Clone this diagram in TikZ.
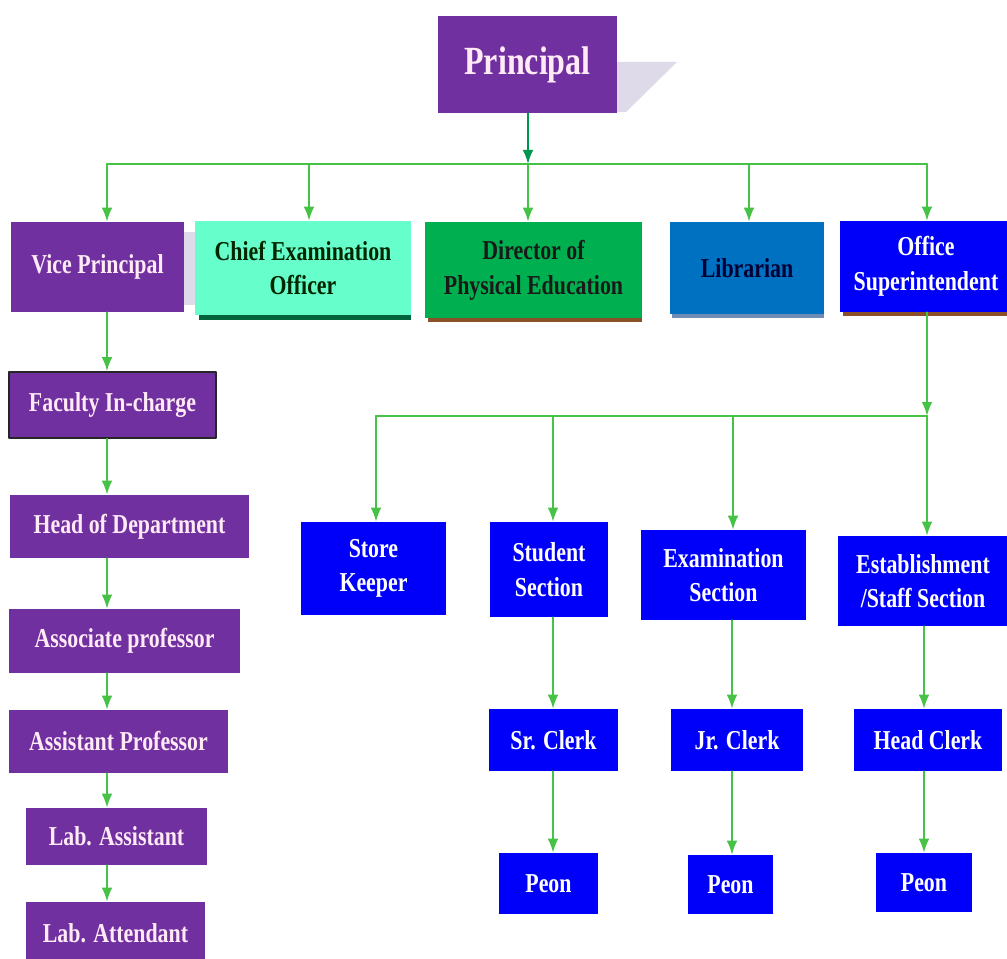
\documentclass[tikz,border=0pt]{standalone}
\usepackage{fontspec}
\newfontfamily\orgfont{Liberation Serif}[FakeStretch=0.8]
\usetikzlibrary{arrows.meta}
\definecolor{boxpurple}{RGB}{112,48,160}
\definecolor{boxmint}{RGB}{102,255,204}
\definecolor{boxgreen}{RGB}{0,176,80}
\definecolor{boxsky}{RGB}{0,112,192}
\definecolor{boxblue}{RGB}{0,0,250}
\definecolor{linkgreen}{RGB}{70,195,70}
\definecolor{darkgreen}{RGB}{0,150,80}
\definecolor{shadowgray}{RGB}{222,218,234}
\definecolor{pinkwhite}{RGB}{255,234,246}
\definecolor{edgebrown}{RGB}{140,80,40}
\definecolor{edgegreen}{RGB}{0,100,60}
\definecolor{edgesky}{RGB}{110,140,180}

\begin{document}
\begin{tikzpicture}[line cap=round,line join=round,x=0.75pt,y=-0.75pt,
  sz/.style 2 args={minimum width=#1*0.75pt,minimum height=#2*0.75pt},
  box/.style={inner sep=0pt,align=center,font=\orgfont\bfseries\fontsize{20.5}{26}\selectfont},
  purplebox/.style={box,fill=boxpurple,text=pinkwhite},
  bluebox/.style={box,fill=boxblue,text=white},
  arr/.style={draw=linkgreen,line width=1.5pt,-{Latex[length=10.5pt,width=8pt]}},
  bus/.style={draw=linkgreen,line width=1.5pt}]
\useasboundingbox (0,0) rectangle (1007,959);
\clip (0,0) rectangle (1007,959);
\fill[white] (0,0) rectangle (1007,959);
% shadows
\fill[shadowgray] (617,62) -- (677,62) -- (626,112) -- (617,112) -- cycle;
\fill[shadowgray] (184,232) rectangle (196,305);
\fill[edgegreen] (199,314) rectangle (411,320);
\fill[edgebrown] (428,316) rectangle (642,322);
\fill[edgesky] (672,312) rectangle (824,318);
\fill[edgebrown] (843,311) rectangle (1012,316);
% top
\node[purplebox,sz={179}{97},font=\orgfont\bfseries\fontsize{30}{36}\selectfont] (pr) at (527.5,64.5) {Principal};
\node[purplebox,sz={173}{90}] (vp) at (97.5,267) {Vice Principal};
\node[box,fill=boxmint,text=black!85!green,sz={216}{94}] (ceo) at (303,268) {Chief Examination\\Officer};
\node[box,fill=boxgreen,text=black!90,sz={217}{96}] (dpe) at (533.5,270) {Director of\\Physical Education};
\node[box,fill=boxsky,text=black!80!blue,sz={154}{92}] (lib) at (747,268) {Librarian};
\node[bluebox,sz={172}{91}] (os) at (926,266.5) {Office\\Superintendent};
% left column
\node[purplebox,draw=black!85,line width=1.2pt,sz={207}{66}] (fic) at (112.5,405) {Faculty In-charge};
\node[purplebox,sz={239}{63}] (hod) at (129.5,526.5) {Head of Department};
\node[purplebox,sz={231}{64}] (asc) at (124.5,641) {Associate professor};
\node[purplebox,sz={219}{63}] (asp) at (118.5,741.5) {Assistant Professor};
\node[purplebox,sz={181}{57}] (lab) at (116.5,836.5) {Lab. Assistant};
\node[purplebox,sz={179}{62}] (att) at (115.5,933) {Lab. Attendant};
% office sections
\node[bluebox,sz={145}{93}] (sk) at (373.5,568.5) {Store\\Keeper};
\node[bluebox,sz={118}{95}] (ss) at (549,569.5) {Student\\Section};
\node[bluebox,sz={165}{90}] (es) at (723.5,575) {Examination\\Section};
\node[bluebox,sz={170}{90}] (est) at (923,581) {Establishment\\/Staff Section};
\node[bluebox,sz={129}{62}] (src) at (553.5,740) {Sr. Clerk};
\node[bluebox,sz={132}{62}] (jrc) at (737,740) {Jr. Clerk};
\node[bluebox,sz={148}{62}] (hc) at (928,740) {Head Clerk};
\node[bluebox,sz={99}{61}] (p1) at (548.5,883.5) {Peon};
\node[bluebox,sz={85}{59}] (p2) at (730.5,884.5) {Peon};
\node[bluebox,sz={96}{59}] (p3) at (924,882.5) {Peon};
% connectors
\coordinate (tb) at (528,164);
\draw[arr,draw=darkgreen] (pr.south -| tb) -- (tb);
\coordinate (t1) at (107,164);
\coordinate (t2) at (309,164);
\coordinate (t3) at (528,164);
\coordinate (t4) at (749,164);
\coordinate (t5) at (927,164);
\draw[bus] (t1) -- (t5);
\foreach \t/\b in {t1/vp,t2/ceo,t3/dpe,t4/lib,t5/os}
  \draw[arr] (\t) -- (\t |- \b.north);
\coordinate (lx) at (107,0);
\foreach \a/\b in {vp/fic,fic/hod,hod/asc,asc/asp,asp/lab,lab/att}
  \draw[arr] (\a.south -| lx) -- (\b.north -| lx);
\coordinate (ob) at (927,416);
\draw[arr] (os.south -| ob) -- (ob);
\coordinate (o1) at (376,416);
\coordinate (o2) at (553,416);
\coordinate (o3) at (733,416);
\draw[bus] (o1) -- (ob);
\foreach \t/\b in {o1/sk,o2/ss,o3/es,ob/est}
  \draw[arr] (\t) -- (\t |- \b.north);
\coordinate (c1) at (553,0);
\coordinate (c2) at (732,0);
\coordinate (c3) at (924,0);
\foreach \a/\b/\c in {ss/src/c1,src/p1/c1,es/jrc/c2,jrc/p2/c2,est/hc/c3,hc/p3/c3}
  \draw[arr] (\a.south -| \c) -- (\b.north -| \c);
\end{tikzpicture}
\end{document}
